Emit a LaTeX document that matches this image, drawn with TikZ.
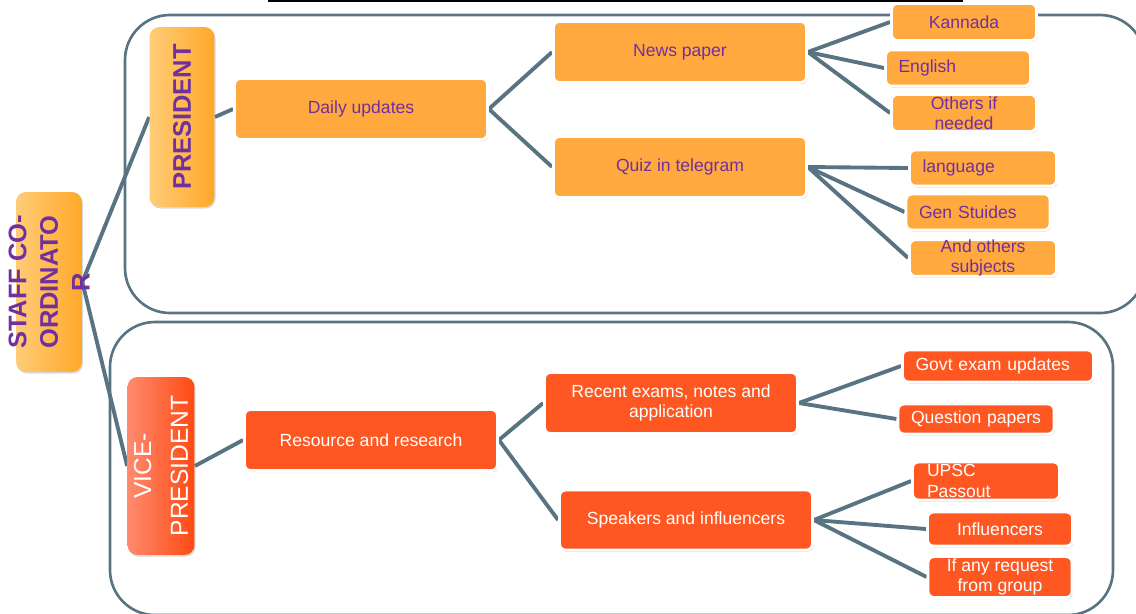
\documentclass[tikz,border=0pt]{standalone}
\usepackage{fontspec}
\setmainfont{Liberation Sans}
\usetikzlibrary{shadows,backgrounds}

\definecolor{boxorange}{HTML}{FFA93F}
\definecolor{boxred}{HTML}{FF5722}
\definecolor{txtpurple}{HTML}{7030A0}
\definecolor{linkgray}{HTML}{587482}
\definecolor{headlight}{HTML}{FFCC78}
\definecolor{headdark}{HTML}{FFA828}
\definecolor{redlight}{HTML}{FF8A6E}
\definecolor{reddark}{HTML}{FF4A12}

\begin{document}
\begin{tikzpicture}[%
            x=0.02cm, y=-0.02cm,
            box/.style={rounded corners=0.12cm, draw=white, line width=1.6pt, inner xsep=2pt, inner ysep=0pt,
                drop shadow={shadow xshift=0.6pt, shadow yshift=-0.9pt, opacity=0.35},
                font=\fontsize{10}{11.5}\selectfont, align=center, minimum width=2.9cm, minimum height=0.74cm},
            mid/.style={box, minimum width=5.06cm, minimum height=1.22cm},
            orbox/.style={fill=boxorange, text=txtpurple},
            rdbox/.style={fill=boxred, text=white},
            lalign/.style={text width=#1, align=left, inner xsep=0.26cm},
            head/.style={rounded corners=0.2cm, minimum width=1.32cm, minimum height=3.6cm,
                drop shadow={shadow xshift=0.6pt, shadow yshift=-0.9pt, opacity=0.3}},
            headorange/.style={head, left color=headlight, right color=headdark},
            headred/.style={head, left color=redlight, right color=reddark},
            headtext/.style={rotate=90, align=center, font=\fontsize{14.5}{18}\selectfont\bfseries},
            link/.style={draw=linkgray, line width=2.2pt},
            frame/.style={draw=linkgray, line width=1.5pt, rounded corners=0.9cm}
        ]

        \path[use as bounding box] (0,0) rectangle (1136,613);

        % Staff co-ordinator
        \node[headorange] (staff) at (49,282) {};
        \node[headtext, text=txtpurple] (staff-label) at (staff) {STAFF CO-\\ORDINATO\\R};

        % President
        \node[headorange, minimum width=1.3cm] (pres) at (182,117) {};
        \node[headtext, text=txtpurple] (pres-label) at (pres) {PRESIDENT};

        % Vice-president
        \node[headred, minimum width=1.34cm, minimum height=3.56cm] (vice) at (161,466) {};
        \node[headtext, font=\fontsize{14}{21}\selectfont, text=white] (vice-label) at (vice) {VICE-\\PRESIDENT};

        % President branch
        \node[mid, orbox] (daily) at (361,109) {Daily updates};
        \node[mid, orbox] (news) at (680,52) {News paper};
        \node[mid, orbox] (quiz) at (680,167) {Quiz in telegram};

        \node[box, orbox] (kannada) at (964,22) {Kannada};
        \node[box, orbox, lalign=2.38cm, minimum height=0.72cm] (english) at (958,68) {English};
        \node[box, orbox] (others) at (964,113) {Others if\\needed};

        \node[box, orbox, lalign=2.42cm, minimum width=2.94cm, minimum height=0.72cm] (lang) at (983,168) {language};
        \node[box, orbox, lalign=2.36cm, minimum width=2.88cm, minimum height=0.72cm] (gen) at (978,212) {Gen Stuides};
        \node[box, orbox, minimum width=2.94cm, minimum height=0.72cm] (andothers) at (983,258) {And others\\subjects};

        % Vice-president branch
        \node[mid, rdbox] (resource) at (371,440) {Resource and research};
        \node[mid, rdbox] (recent) at (671,403) {Recent exams, notes and\\application};
        \node[mid, rdbox, minimum height=1.2cm] (speakers) at (686,520) {Speakers and influencers};

        \node[box, rdbox, lalign=3.3cm, minimum width=3.82cm, minimum height=0.64cm] (govt) at (998,366) {Govt exam updates};
        \node[box, rdbox, lalign=2.6cm, minimum width=3.12cm, minimum height=0.6cm] (qpapers) at (976,419) {Question papers};

        \node[box, rdbox, lalign=2.36cm, minimum width=2.94cm, minimum height=0.76cm] (upsc) at (986,481) {UPSC\\Passout};
        \node[box, rdbox, minimum height=0.68cm] (influencers) at (1000,529) {Influencers};
        \node[box, rdbox, minimum width=2.88cm, minimum height=0.82cm] (request) at (1000,577) {If any request\\from group};

        \begin{pgfonlayer}{background}
            % Frames
            \begin{scope}
                \clip (0,0) rectangle (1136,613);
                \draw[frame] (125,15) rectangle (1145,313);
                \draw[frame] (110,322) rectangle (1113,615);
            \end{scope}
            \draw[line width=1.2pt] (268,0.6) -- (963,0.6);

            % Staff to heads
            \draw[link] (staff.east) -- (pres.west);
            \draw[link] (staff.east) -- (vice.west);

            % President links
            \draw[link] (pres.east) -- (daily.west);
            \draw[link] (daily.east) -- (news.west);
            \draw[link] (daily.east) -- (quiz.west);
            \draw[link] (news.east) -- (kannada.west);
            \draw[link] (news.east) -- (english.west);
            \draw[link] (news.east) -- (others.west);
            \draw[link] (quiz.east) -- (lang.west);
            \draw[link] (quiz.east) -- (gen.west);
            \draw[link] (quiz.east) -- (andothers.west);

            % Vice-president links
            \draw[link] (vice.east) -- (resource.west);
            \draw[link] (resource.east) -- (recent.west);
            \draw[link] (resource.east) -- (speakers.west);
            \draw[link] (recent.east) -- (govt.west);
            \draw[link] (recent.east) -- (qpapers.west);
            \draw[link] (speakers.east) -- (upsc.west);
            \draw[link] (speakers.east) -- (influencers.west);
            \draw[link] (speakers.east) -- (request.west);
        \end{pgfonlayer}

        \end{tikzpicture}
\end{document}
